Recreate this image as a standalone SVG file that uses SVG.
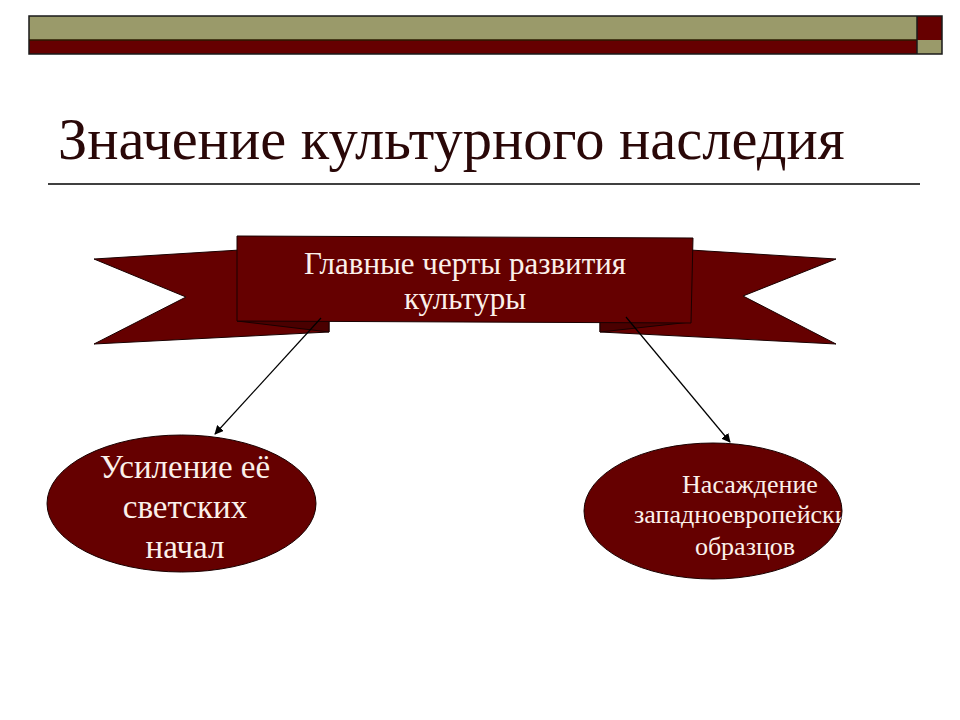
<svg xmlns="http://www.w3.org/2000/svg" width="960" height="720" viewBox="0 0 960 720">
<style>
.dark{fill:#650000;stroke:#1a0000;stroke-width:1}
.fold{fill:#4a0000;stroke:#1a0000;stroke-width:1}
.lt{font-family:"Liberation Serif","Times New Roman",serif;fill:#fbf0ea;text-anchor:middle}
.conn{stroke:#000;stroke-width:1.2;fill:none;marker-end:url(#ah)}
</style>
<defs>
<marker id="ah" viewBox="0 0 10 10" refX="9" refY="5" markerWidth="9" markerHeight="9" markerUnits="userSpaceOnUse" orient="auto">
<path d="M0,0 L10,5 L0,10 z" fill="#000"/>
</marker>
<clipPath id="rclip"><ellipse cx="713" cy="511" rx="129" ry="68"/></clipPath>
</defs>
<rect width="960" height="720" fill="#fff"/>
<g id="topbar">
<rect x="29" y="16" width="888" height="24" fill="#9a9a6a"/>
<rect x="29" y="40" width="888" height="14" fill="#660000"/>
<rect x="917" y="16" width="25" height="24" fill="#660000"/>
<rect x="917" y="40" width="25" height="14" fill="#9a9a6a"/>
<rect x="29" y="16" width="913" height="38" fill="none" stroke="#1a1a1a" stroke-width="1.5"/>
<line x1="29" y1="40" x2="917" y2="40" stroke="#2a1a00" stroke-width="1.5"/>
<line x1="917" y1="16" x2="917" y2="54" stroke="#1a1a1a" stroke-width="1.5"/>
</g>
<g id="title">
<text x="58" y="159" font-family="Liberation Serif,'Times New Roman',serif" font-size="58.5" fill="#2a0808">Значение культурного наследия</text>
<line x1="48" y1="184" x2="920" y2="184" stroke="#000" stroke-width="1.5"/>
</g>
<g id="banner">
<polygon class="dark" points="94,259 240,250 240,320 329,319 329,332 94,344 186,297"/>
<polygon class="dark" points="836,259 690,250 690,322 600,322 600,332 836,344 743,296"/>
<polygon class="fold" points="237,321 329,332 329,319"/>
<polygon class="fold" points="691,322 600,332 600,322"/>
<polygon class="dark" points="237,236 693,238 691,323 237,321"/>
<text class="lt" x="465" y="274" font-size="31">Главные черты развития</text>
<text class="lt" x="465" y="309" font-size="31">культуры</text>
</g>
<g id="connectors">
<line class="conn" x1="321" y1="318" x2="215" y2="434"/>
<line class="conn" x1="626" y1="317" x2="730" y2="442"/>
</g>
<g id="node-left">
<ellipse class="dark" cx="181.5" cy="503.5" rx="134.5" ry="68.5"/>
<text class="lt" x="185" y="478" font-size="33">Усиление её</text>
<text class="lt" x="185" y="518" font-size="33">светских</text>
<text class="lt" x="185" y="558" font-size="33">начал</text>
</g>
<g id="node-right">
<ellipse class="dark" cx="713" cy="511" rx="129" ry="68"/>
<g clip-path="url(#rclip)">
<text class="lt" x="750" y="493" font-size="26">Насаждение</text>
<text class="lt" x="634" y="523" font-size="26" style="text-anchor:start">западноевропейских</text>
<text class="lt" x="745" y="555" font-size="26">образцов</text>
</g>
</g>
</svg>
